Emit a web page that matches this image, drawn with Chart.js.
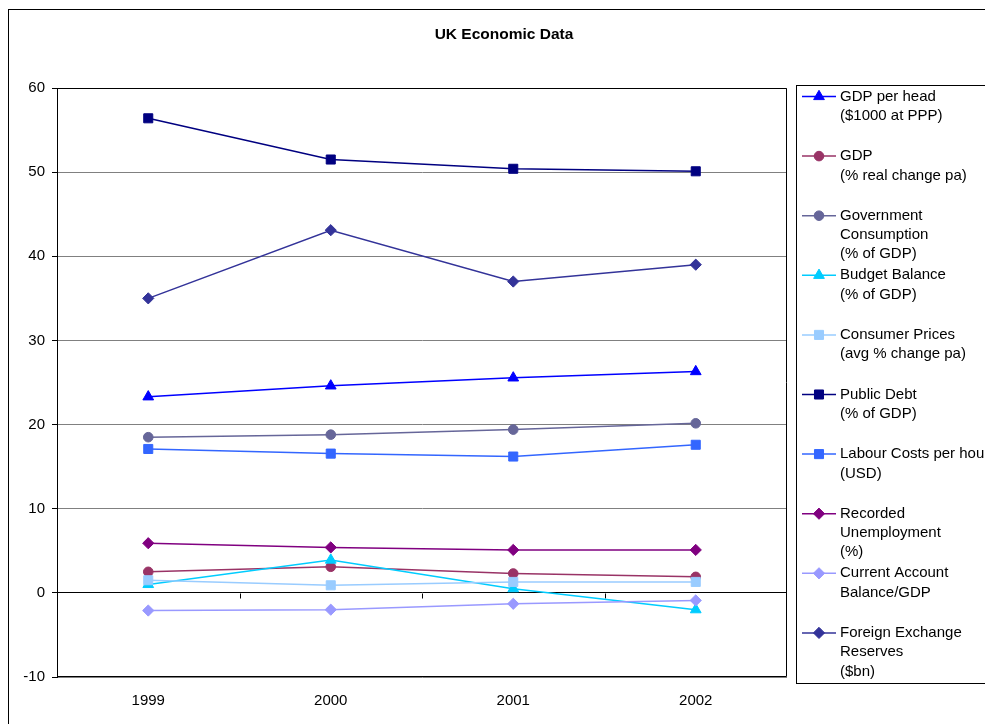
<!DOCTYPE html>
<html><head><meta charset="utf-8">
<script src="https://cdn.jsdelivr.net/npm/chart.js@4.4.0/dist/chart.umd.min.js"></script>
<style>html,body{margin:0;padding:0;background:#fff;}#wrap{width:985px;height:724px;position:relative;}</style>
</head><body><div id="wrap"><canvas id="c" width="985" height="724"></canvas></div>
<script>
const years = ['1999', '2000', '2001', '2002'];
const gdpPerHead = [23.3, 24.6, 25.55, 26.3];
const gdpGrowth = [2.5, 3.1, 2.3, 1.9];
const govConsumption = [18.5, 18.8, 19.4, 20.15];
const budgetBalance = [1.0, 3.9, 0.5, -2.0];
const consumerPrices = [1.5, 0.9, 1.3, 1.3];
const publicDebt = [56.4, 51.5, 50.4, 50.1];
const labourCosts = [17.1, 16.55, 16.2, 17.6];
const unemployment = [5.9, 5.4, 5.1, 5.1];
const currentAccount = [-2.1, -2.0, -1.3, -0.9];
const fxReserves = [35.0, 43.1, 37.0, 39.0];
const yMin = -10, yMax = 60, yStep = 10;
const chartTitle = 'UK Economic Data';

const seriesLabels = [
  ['GDP per head', '($1000 at PPP)'],
  ['GDP', '(% real change pa)'],
  ['Government', 'Consumption', '(% of GDP)'],
  ['Budget Balance', '(% of GDP)'],
  ['Consumer Prices', '(avg % change pa)'],
  ['Public Debt', '(% of GDP)'],
  ['Labour Costs per hour', '(USD)'],
  ['Recorded', 'Unemployment', '(%)'],
  ['Current Account', 'Balance/GDP'],
  ['Foreign Exchange', 'Reserves', '($bn)']
];
const seriesValues = [gdpPerHead, gdpGrowth, govConsumption, budgetBalance, consumerPrices,
  publicDebt, labourCosts, unemployment, currentAccount, fxReserves];
const seriesColors = ['#0000FF', '#993366', '#666699', '#00CCFF', '#99CCFF',
  '#000080', '#3366FF', '#800080', '#9999FF', '#333399'];
const seriesMarkers = ['triangle', 'circle', 'circle', 'triangle', 'rect',
  'rect', 'rect', 'rectRot', 'rectRot', 'rectRot'];
const markerRadius = { triangle: 6.2, circle: 4.8, rect: 6.4, rectRot: 5.6 };

const FONT = '"Liberation Sans", Arial, sans-serif';

const datasets = seriesValues.map((vals, i) => ({
  label: seriesLabels[i].join(' '),
  data: vals,
  borderColor: seriesColors[i],
  backgroundColor: seriesColors[i],
  pointBackgroundColor: seriesColors[i],
  pointBorderColor: seriesColors[i],
  pointStyle: seriesMarkers[i],
  pointRadius: markerRadius[seriesMarkers[i]],
  pointHoverRadius: markerRadius[seriesMarkers[i]],
  pointBorderWidth: 1,
  borderWidth: 1.5,
  tension: 0,
  order: seriesValues.length - i
}));

const framePlugin = {
  id: 'frame',
  beforeDraw(chart) {
    const ctx = chart.ctx;
    ctx.save();
    ctx.fillStyle = '#fff';
    ctx.fillRect(0, 0, chart.width, chart.height);
    ctx.strokeStyle = '#000';
    ctx.lineWidth = 1;
    ctx.strokeRect(8.5, 9.5, 2000, 2000);
    ctx.fillStyle = '#000';
    ctx.font = 'bold 15.5px ' + FONT;
    ctx.textAlign = 'center';
    ctx.textBaseline = 'middle';
    ctx.fillText(chartTitle, 504, 35);
    ctx.restore();
  },
  beforeDatasetsDraw(chart) {
    const ctx = chart.ctx;
    const a = chart.chartArea;
    const xs = chart.scales.x, ys = chart.scales.y;
    ctx.save();
    ctx.strokeStyle = '#000';
    ctx.lineWidth = 1;
    ctx.beginPath();
    ctx.moveTo(Math.round(a.left) + 0.5, Math.round(a.top) + 0.5);
    ctx.lineTo(Math.round(a.right) - 0.5, Math.round(a.top) + 0.5);
    ctx.lineTo(Math.round(a.right) - 0.5, Math.round(a.bottom) - 0.5);
    ctx.lineTo(Math.round(a.left) + 0.5, Math.round(a.bottom) - 0.5);
    ctx.stroke();
    const y0 = Math.round(ys.getPixelForValue(0)) + 0.5;
    ctx.beginPath();
    for (let i = 1; i < years.length; i++) {
      const x = Math.round(xs.getPixelForValue(i - 0.5)) + 0.5;
      ctx.moveTo(x, y0);
      ctx.lineTo(x, y0 + 5);
    }
    ctx.stroke();
    ctx.restore();
  },
  afterDraw(chart) {
    const ctx = chart.ctx;
    const box = { left: 796, top: 85, bottom: 683 };
    ctx.save();
    ctx.strokeStyle = '#000';
    ctx.lineWidth = 1;
    ctx.strokeRect(box.left + 0.5, box.top + 0.5, 500, box.bottom - box.top);
    const step = 59.6;
    ctx.font = '15px ' + FONT;
    ctx.textBaseline = 'middle';
    ctx.textAlign = 'left';
    chart.data.datasets.forEach((ds, i) => {
      const y = box.top + 11.5 + i * step;
      ctx.strokeStyle = ds.borderColor;
      ctx.lineWidth = 1.5;
      ctx.beginPath();
      ctx.moveTo(802, y);
      ctx.lineTo(836, y);
      ctx.stroke();
      ctx.fillStyle = ds.pointBackgroundColor;
      ctx.strokeStyle = ds.pointBorderColor;
      ctx.lineWidth = 1;
      Chart.helpers.drawPoint(ctx, { pointStyle: ds.pointStyle, radius: ds.pointRadius, rotation: 0, borderWidth: 1 }, 819, y);
      ctx.fillStyle = '#000';
      seriesLabels[i].forEach((line, k) => ctx.fillText(line, 840, y + k * 19.3));
    });
    ctx.restore();
  }
};

new Chart(document.getElementById('c'), {
  type: 'line',
  data: { labels: years, datasets },
  options: {
    responsive: false,
    animation: false,
    events: [],
    layout: { padding: { top: 88, right: 198, left: 0, bottom: 0 } },
    plugins: { legend: { display: false }, title: { display: false }, tooltip: { enabled: false } },
    scales: {
      x: {
        type: 'category',
        offset: true,
        grid: { display: false, drawTicks: false },
        border: { display: false },
        ticks: { color: '#000', font: { family: FONT, size: 15 }, padding: 15, maxRotation: 0 },
        afterFit(s) { s.height = 47; }
      },
      y: {
        min: yMin, max: yMax,
        ticks: { stepSize: yStep, color: '#000', font: { family: FONT, size: 15 }, padding: 7 },
        grid: {
          color: (c) => (c.tick && c.tick.value === 0) ? '#000' : '#808080',
          tickColor: '#000',
          tickLength: 5,
          lineWidth: 1
        },
        border: { display: true, color: '#000', width: 1 },
        afterFit(s) { s.width = 57; }
      }
    }
  },
  plugins: [framePlugin]
});
</script>
</body></html>
